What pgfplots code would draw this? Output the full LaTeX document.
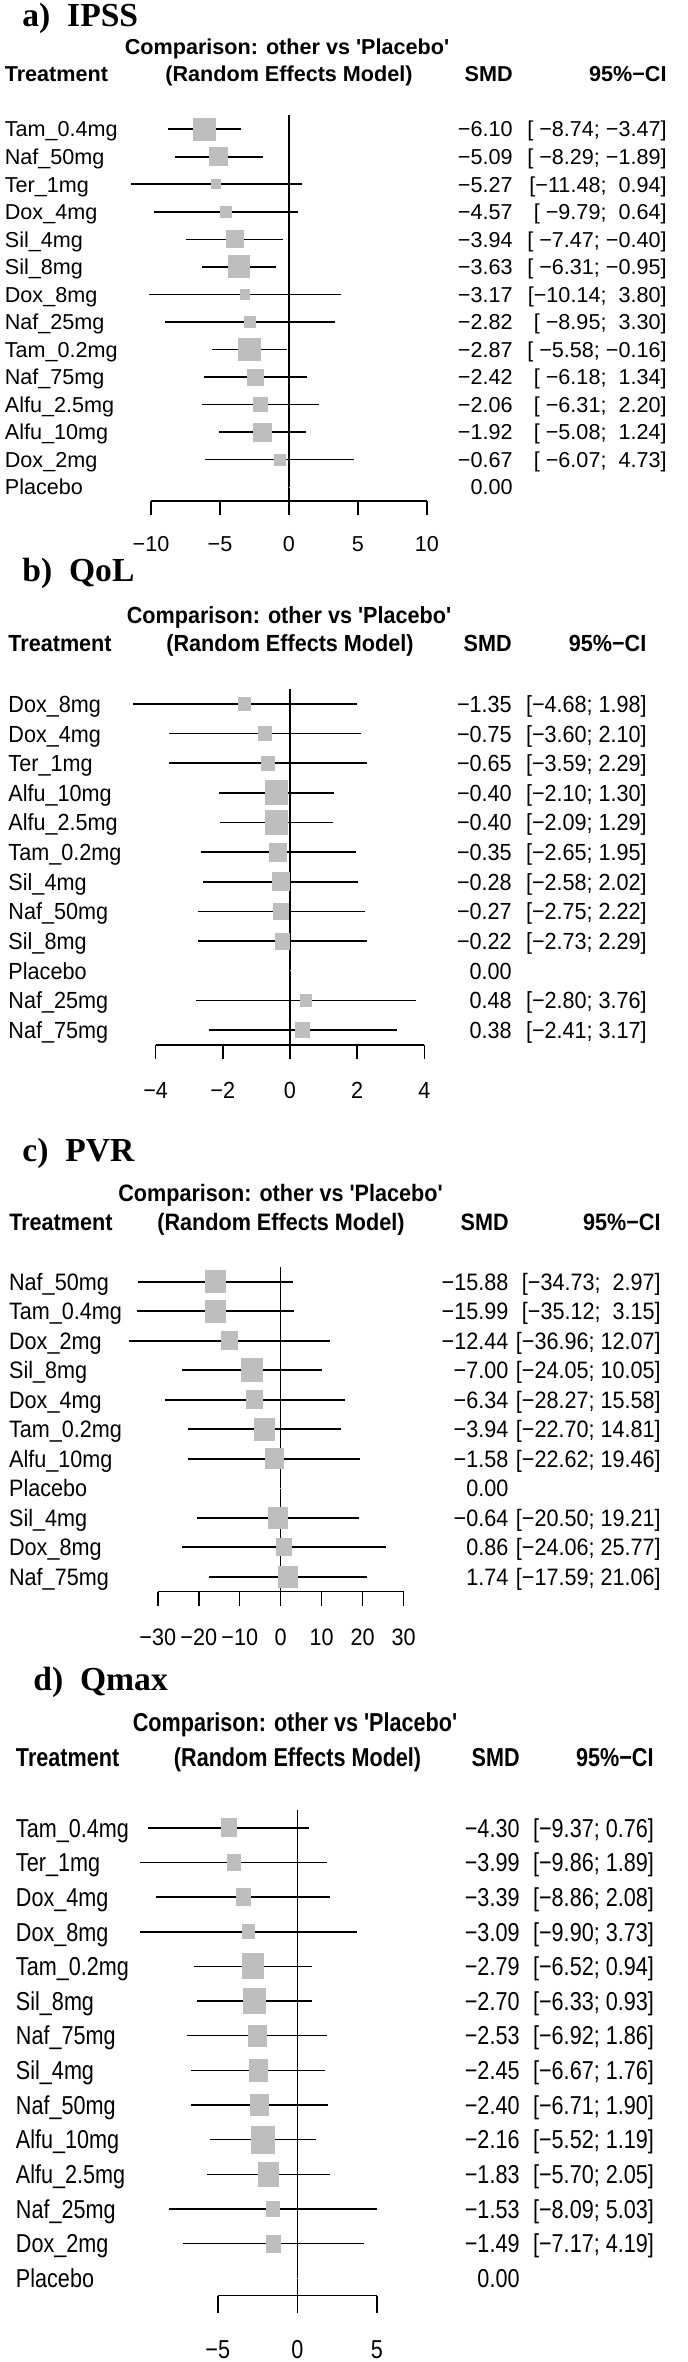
\documentclass[border=0pt]{standalone}
\usepackage{pgfplots}
\pgfplotsset{compat=1.18}
\usepackage{pgfplotstable}
\usepackage{fontspec}
\setmainfont{Liberation Sans}
\newfontfamily\serifbold{Liberation Serif}
\definecolor{sqgray}{HTML}{BEBEBE}
\newcommand\txt{\fontsize{10.8}{13}\selectfont}
\newcommand\ttl{\fontsize{16.8}{20}\selectfont\serifbold\bfseries}
\protected\def\sc{;}
\protected\def\lb{[}
\protected\def\rb{]}
\protected\def\s{\nobreak\ }

% panel a: IPSS
\pgfplotstableread{
y est lo hi w name smd ci
-1 -6.10 -8.74 -3.47 22.2 Tam\_0.4mg −6.10 {\lb\s−8.74\sc\s−3.47\rb}
-2 -5.09 -8.29 -1.89 18.2 Naf\_50mg −5.09 {\lb\s−8.29\sc\s−1.89\rb}
-3 -5.27 -11.48 0.94 8.9 Ter\_1mg −5.27 {\lb−11.48\sc\s\s0.94\rb}
-4 -4.57 -9.79 0.64 11.6 Dox\_4mg −4.57 {\lb\s−9.79\sc\s\s0.64\rb}
-5 -3.94 -7.47 -0.40 16.9 Sil\_4mg −3.94 {\lb\s−7.47\sc\s−0.40\rb}
-6 -3.63 -6.31 -0.95 21.8 Sil\_8mg −3.63 {\lb\s−6.31\sc\s−0.95\rb}
-7 -3.17 -10.14 3.80 9.3 Dox\_8mg −3.17 {\lb−10.14\sc\s\s3.80\rb}
-8 -2.82 -8.95 3.30 10.2 Naf\_25mg −2.82 {\lb\s−8.95\sc\s\s3.30\rb}
-9 -2.87 -5.58 -0.16 21.3 Tam\_0.2mg −2.87 {\lb\s−5.58\sc\s−0.16\rb}
-10 -2.42 -6.18 1.34 16.0 Naf\_75mg −2.42 {\lb\s−6.18\sc\s\s1.34\rb}
-11 -2.06 -6.31 2.20 14.2 Alfu\_2.5mg −2.06 {\lb\s−6.31\sc\s\s2.20\rb}
-12 -1.92 -5.08 1.24 18.2 Alfu\_10mg −1.92 {\lb\s−5.08\sc\s\s1.24\rb}
-13 -0.67 -6.07 4.73 10.7 Dox\_2mg −0.67 {\lb\s−6.07\sc\s\s4.73\rb}
-14 0 0 0 0 Placebo 0.00 {}
}\tabA

% panel b: QoL
\pgfplotstableread{
y est lo hi w name smd ci
-1 -1.35 -4.68 1.98 11.6 Dox\_8mg −1.35 {\lb−4.68\sc\s1.98\rb}
-2 -0.75 -3.60 2.10 13.3 Dox\_4mg −0.75 {\lb−3.60\sc\s2.10\rb}
-3 -0.65 -3.59 2.29 13.3 Ter\_1mg −0.65 {\lb−3.59\sc\s2.29\rb}
-4 -0.40 -2.10 1.30 22.2 Alfu\_10mg −0.40 {\lb−2.10\sc\s1.30\rb}
-5 -0.40 -2.09 1.29 22.2 Alfu\_2.5mg −0.40 {\lb−2.09\sc\s1.29\rb}
-6 -0.35 -2.65 1.95 16.9 Tam\_0.2mg −0.35 {\lb−2.65\sc\s1.95\rb}
-7 -0.28 -2.58 2.02 16.9 Sil\_4mg −0.28 {\lb−2.58\sc\s2.02\rb}
-8 -0.27 -2.75 2.22 15.6 Naf\_50mg −0.27 {\lb−2.75\sc\s2.22\rb}
-9 -0.22 -2.73 2.29 14.7 Sil\_8mg −0.22 {\lb−2.73\sc\s2.29\rb}
-10 0 0 0 0 Placebo 0.00 {}
-11 0.48 -2.80 3.76 11.6 Naf\_25mg 0.48 {\lb−2.80\sc\s3.76\rb}
-12 0.38 -2.41 3.17 13.8 Naf\_75mg 0.38 {\lb−2.41\sc\s3.17\rb}
}\tabB

% panel c: PVR
\pgfplotstableread{
y est lo hi w name smd ci
-1 -15.88 -34.73 2.97 20.0 Naf\_50mg −15.88 {\lb−34.73\sc\s\s2.97\rb}
-2 -15.99 -35.12 3.15 20.0 Tam\_0.4mg −15.99 {\lb−35.12\sc\s\s3.15\rb}
-3 -12.44 -36.96 12.07 16.0 Dox\_2mg −12.44 {\lb−36.96\sc\s12.07\rb}
-4 -7.00 -24.05 10.05 21.3 Sil\_8mg −7.00 {\lb−24.05\sc\s10.05\rb}
-5 -6.34 -28.27 15.58 16.4 Dox\_4mg −6.34 {\lb−28.27\sc\s15.58\rb}
-6 -3.94 -22.70 14.81 20.0 Tam\_0.2mg −3.94 {\lb−22.70\sc\s14.81\rb}
-7 -1.58 -22.62 19.46 17.8 Alfu\_10mg −1.58 {\lb−22.62\sc\s19.46\rb}
-8 0 0 0 0 Placebo 0.00 {}
-9 -0.64 -20.50 19.21 19.1 Sil\_4mg −0.64 {\lb−20.50\sc\s19.21\rb}
-10 0.86 -24.06 25.77 15.1 Dox\_8mg 0.86 {\lb−24.06\sc\s25.77\rb}
-11 1.74 -17.59 21.06 18.7 Naf\_75mg 1.74 {\lb−17.59\sc\s21.06\rb}
}\tabC

% panel d: Qmax
\pgfplotstableread{
y est lo hi w name smd ci
-1 -4.30 -9.37 0.76 15.1 Tam\_0.4mg −4.30 {\lb−9.37\sc\s0.76\rb}
-2 -3.99 -9.86 1.89 13.3 Ter\_1mg −3.99 {\lb−9.86\sc\s1.89\rb}
-3 -3.39 -8.86 2.08 14.7 Dox\_4mg −3.39 {\lb−8.86\sc\s2.08\rb}
-4 -3.09 -9.90 3.73 12.0 Dox\_8mg −3.09 {\lb−9.90\sc\s3.73\rb}
-5 -2.79 -6.52 0.94 20.9 Tam\_0.2mg −2.79 {\lb−6.52\sc\s0.94\rb}
-6 -2.70 -6.33 0.93 21.3 Sil\_8mg −2.70 {\lb−6.33\sc\s0.93\rb}
-7 -2.53 -6.92 1.86 17.8 Naf\_75mg −2.53 {\lb−6.92\sc\s1.86\rb}
-8 -2.45 -6.67 1.76 18.2 Sil\_4mg −2.45 {\lb−6.67\sc\s1.76\rb}
-9 -2.40 -6.71 1.90 18.2 Naf\_50mg −2.40 {\lb−6.71\sc\s1.90\rb}
-10 -2.16 -5.52 1.19 22.7 Alfu\_10mg −2.16 {\lb−5.52\sc\s1.19\rb}
-11 -1.83 -5.70 2.05 19.6 Alfu\_2.5mg −1.83 {\lb−5.70\sc\s2.05\rb}
-12 -1.53 -8.09 5.03 12.4 Naf\_25mg −1.53 {\lb−8.09\sc\s5.03\rb}
-13 -1.49 -7.17 4.19 14.2 Dox\_2mg −1.49 {\lb−7.17\sc\s4.19\rb}
-14 0 0 0 0 Placebo 0.00 {}
}\tabD

\pgfplotsset{
  forest/.style={
    scale only axis, clip=false,
    axis x line*=bottom, axis y line=none,
    axis line style={black, line width=0.75pt},
    tick align=outside,
    major tick length=7.15pt,
    every tick/.style={black, line width=0.75pt},
    ymax=-0.5,
  },
  sq/.style={only marks, scatter, mark=square*, point meta=x,
    scatter/use mapped color={draw=sqgray, fill=sqgray},
    visualization depends on={\thisrow{w}/4 \as \msz},
    scatter/@pre marker code/.append style={/tikz/mark size=\msz},
    mark options={yscale=#1, line width=0pt}},
  ci/.style={draw=none, mark=none,
    restrict expr to domain={\thisrow{w}}{0.1:100},
    error bars/.cd, x dir=both, x explicit, error mark=none,
    error bar style={draw=black, line width=0.8pt}},
  tk/.style={draw=none, mark=none,
    restrict expr to domain={\thisrow{w}}{0.1:100},
    error bars/.cd, y dir=both, y fixed=#1, error mark=none,
    error bar style={draw=black, line width=0.8pt}},
  lab/.style={draw=none, mark=none, point meta=explicit symbolic,
    nodes near coords={\pgfplotspointmeta},
    every node near coord/.append style={font=\txt, inner sep=0pt, yscale=#1, yshift=-3.87pt}},
  zl/.style={black, line width=0.75pt},
}
\tikzset{
  hd/.style={font=\txt\bfseries, inner sep=0pt, yscale=#1},
  tt/.style={font=\ttl, inner sep=0pt, anchor=base west},
}

\begin{document}
\begin{tikzpicture}
\useasboundingbox (0,0) rectangle (344pt,-1181pt);

% ---------- panel a ----------
\node[tt] at (11pt,-13.35pt) {a)\hspace{0.5em}IPSS};
\node[hd=1, anchor=base] at (143.5pt,-27pt) {Comparison: other vs \textquotesingle Placebo\textquotesingle};
\node[hd=1, anchor=base west] at (2.2pt,-40.85pt) {Treatment};
\node[hd=1, anchor=base] at (144.5pt,-40.85pt) {(Random Effects Model)};
\node[hd=1, anchor=base east] at (256.5pt,-40.85pt) {SMD};
\node[hd=1, anchor=base east] at (333.5pt,-40.85pt) {95\%−CI};
\begin{axis}[forest, at={(75.5pt,-250.5pt)}, anchor=south west, width=138pt, height=192.8pt,
  xmin=-10, xmax=10, ymin=-14.5,
  xtick={-10,-5,0,5,10}, xticklabels={−10,−5,0,5,10},
  xticklabel style={font=\txt, inner sep=0pt, yshift=-10.3pt}]
\addplot[zl] coordinates {(0,-0.5) (0,-14.5)};
\addplot[sq=1] table[x=est,y=y] {\tabA};
\addplot[ci] table[x=est,y=y,x error plus expr=\thisrow{hi}-\thisrow{est},x error minus expr=\thisrow{est}-\thisrow{lo}] {\tabA};
\addplot[tk=0.14] table[x=est,y=y] {\tabA};
\addplot[lab=1, every node near coord/.append style={anchor=base west}] table[x expr=-20.62,y=y,meta=name] {\tabA};
\addplot[lab=1, every node near coord/.append style={anchor=base east}] table[x expr=16.23,y=y,meta=smd] {\tabA};
\addplot[lab=1, every node near coord/.append style={anchor=base east}] table[x expr=27.39,y=y,meta=ci] {\tabA};
\end{axis}

% ---------- panel b ----------
\node[tt] at (11pt,-290.85pt) {b)\hspace{0.5em}QoL};
\node[hd=1.08, anchor=base] at (144.5pt,-311.65pt) {Comparison: other vs \textquotesingle Placebo\textquotesingle};
\node[hd=1.08, anchor=base west] at (4pt,-325.85pt) {Treatment};
\node[hd=1.08, anchor=base] at (145pt,-325.85pt) {(Random Effects Model)};
\node[hd=1.08, anchor=base east] at (256pt,-325.85pt) {SMD};
\node[hd=1.08, anchor=base east] at (323.35pt,-325.85pt) {95\%−CI};
\begin{axis}[forest, at={(77.8pt,-522.4pt)}, anchor=south west, width=134.4pt, height=177.8pt,
  xmin=-4, xmax=4, ymin=-12.5,
  xtick={-4,-2,0,2,4}, xticklabels={−4,−2,0,2,4},
  xticklabel style={font=\txt, inner sep=0pt, yshift=-11.2pt, yscale=1.08}]
\addplot[zl] coordinates {(0,-0.5) (0,-12.5)};
\addplot[sq=1.08] table[x=est,y=y] {\tabB};
\addplot[ci] table[x=est,y=y,x error plus expr=\thisrow{hi}-\thisrow{est},x error minus expr=\thisrow{est}-\thisrow{lo}] {\tabB};
\addplot[tk=0.14] table[x=est,y=y] {\tabB};
\addplot[lab=1.08, every node near coord/.append style={anchor=base west}] table[x expr=-8.39,y=y,meta=name] {\tabB};
\addplot[lab=1.08, every node near coord/.append style={anchor=base east}] table[x expr=6.61,y=y,meta=smd] {\tabB};
\addplot[lab=1.08, every node near coord/.append style={anchor=base east}] table[x expr=10.63,y=y,meta=ci] {\tabB};
\end{axis}

% ---------- panel c ----------
\node[tt] at (11pt,-580.85pt) {c)\hspace{0.5em}PVR};
\node[hd=1.1, anchor=base] at (140.25pt,-600.85pt) {Comparison: other vs \textquotesingle Placebo\textquotesingle};
\node[hd=1.1, anchor=base west] at (4.45pt,-615pt) {Treatment};
\node[hd=1.1, anchor=base] at (140.5pt,-615pt) {(Random Effects Model)};
\node[hd=1.1, anchor=base east] at (254.5pt,-615pt) {SMD};
\node[hd=1.1, anchor=base east] at (330.5pt,-615pt) {95\%−CI};
\begin{axis}[forest, at={(78.9pt,-795.75pt)}, anchor=south west, width=122.9pt, height=162.25pt,
  xmin=-30, xmax=30, ymin=-11.5,
  xtick={-30,-20,-10,0,10,20,30}, xticklabels={−30,−20,−10,0,10,20,30},
  xticklabel style={font=\txt, inner sep=0pt, yshift=-11.1pt, yscale=1.1}]
\addplot[zl] coordinates {(0,-0.5) (0,-11.5)};
\addplot[sq=1.1] table[x=est,y=y] {\tabC};
\addplot[ci] table[x=est,y=y,x error plus expr=\thisrow{hi}-\thisrow{est},x error minus expr=\thisrow{est}-\thisrow{lo}] {\tabC};
\addplot[tk=0.14] table[x=est,y=y] {\tabC};
\addplot[lab=1.1, every node near coord/.append style={anchor=base west}] table[x expr=-66.39,y=y,meta=name] {\tabC};
\addplot[lab=1.1, every node near coord/.append style={anchor=base east}] table[x expr=55.68,y=y,meta=smd] {\tabC};
\addplot[lab=1.1, every node near coord/.append style={anchor=base east}] table[x expr=92.85,y=y,meta=ci] {\tabC};
\end{axis}

% ---------- panel d ----------
\node[tt] at (16.5pt,-845pt) {d)\hspace{0.5em}Qmax};
\node[hd=1.2, anchor=base] at (147.5pt,-865.85pt) {Comparison: other vs \textquotesingle Placebo\textquotesingle};
\node[hd=1.2, anchor=base west] at (7.8pt,-883.35pt) {Treatment};
\node[hd=1.2, anchor=base] at (148.8pt,-883.35pt) {(Random Effects Model)};
\node[hd=1.2, anchor=base east] at (260pt,-883.35pt) {SMD};
\node[hd=1.2, anchor=base east] at (327pt,-883.35pt) {95\%−CI};
\begin{axis}[forest, at={(108.9pt,-1147.8pt)}, anchor=south west, width=79.55pt, height=242.6pt,
  xmin=-5, xmax=5, ymin=-14.5, major tick length=8.85pt,
  xtick={-5,0,5}, xticklabels={−5,0,5},
  xticklabel style={font=\txt, inner sep=0pt, yshift=-13.2pt, yscale=1.2}]
\addplot[zl] coordinates {(0,-0.5) (0,-14.5)};
\addplot[sq=1.2] table[x=est,y=y] {\tabD};
\addplot[ci] table[x=est,y=y,x error plus expr=\thisrow{hi}-\thisrow{est},x error minus expr=\thisrow{est}-\thisrow{lo}] {\tabD};
\addplot[tk=0.14] table[x=est,y=y] {\tabD};
\addplot[lab=1.2, every node near coord/.append style={anchor=base west}] table[x expr=-17.71,y=y,meta=name] {\tabD};
\addplot[lab=1.2, every node near coord/.append style={anchor=base east}] table[x expr=13.99,y=y,meta=smd] {\tabD};
\addplot[lab=1.2, every node near coord/.append style={anchor=base east}] table[x expr=22.43,y=y,meta=ci] {\tabD};
\end{axis}
\end{tikzpicture}
\end{document}
